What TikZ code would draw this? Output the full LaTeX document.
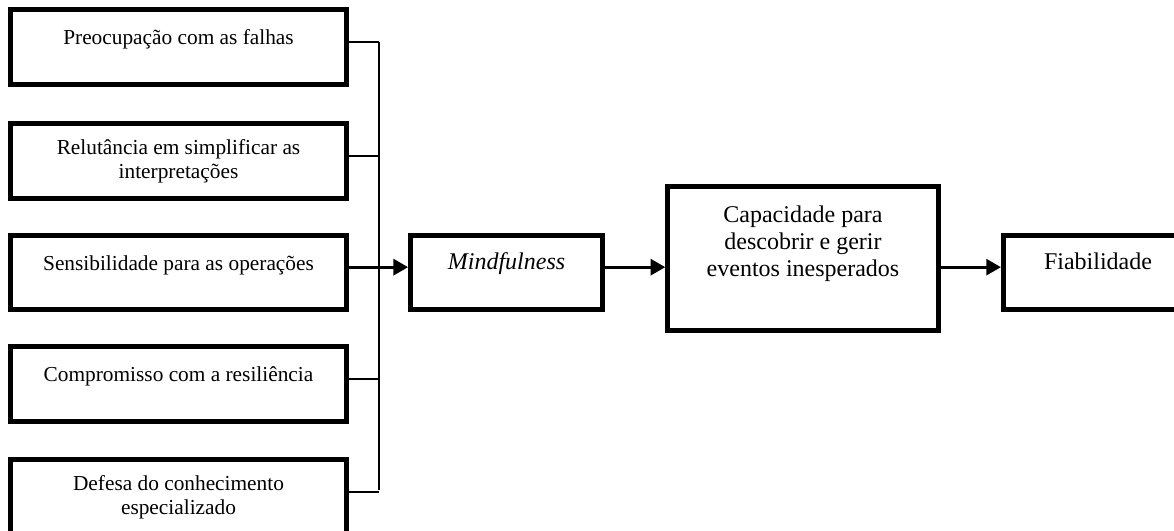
\documentclass[tikz,border=0pt]{standalone}
\usepackage{fontspec}
\setmainfont{Liberation Serif}
\usetikzlibrary{arrows.meta}

% empty second line, as in the boxes with only one line of text
\newcommand{\linhavazia}{\\[-9pt]\strut}

\tikzset{
    caixa/.style={draw, rectangle, line width=3.6pt, align=center, inner sep=0pt},
    caixaesq/.style={caixa, minimum width=252pt, minimum height=56pt, font=\fontsize{16}{18}\selectfont},
    caixadir/.style={caixa, font=\fontsize{18}{20}\selectfont},
    ramo/.style={line width=1.3pt},
    seta/.style={line width=2.2pt, -{Triangle[length=11pt, width=12pt]}}
}

\begin{document}
\begin{tikzpicture}[x=0.75pt, y=-0.75pt]
    % Fix the size of the picture
    \useasboundingbox (0,0) rectangle (1174,531);
    \clip (0,0) rectangle (1174,531);

    % Position of the vertical line joining the five boxes
    \def\busx{379}
    % Shift of the connectors above the box centres
    \def\up{4pt}

    % The five boxes on the left
    \node[caixaesq] (preoc) at (178.5,47) {Preocupação com as falhas\linhavazia};
    \node[caixaesq] (relut) at (178.5,161) {Relutância em simplificar as\\ interpretações};
    \node[caixaesq] (sensib) at (178.5,272.5) {Sensibilidade para as operações\linhavazia};
    \node[caixaesq] (comprom) at (178.5,384) {Compromisso com a resiliência\linhavazia};
    \node[caixaesq] (defesa) at (178.5,497) {Defesa do conhecimento\\ especializado};

    % The chain on the right
    \node[caixadir, minimum width=144pt, minimum height=56pt] (mind) at (506.5,272.5) {\textit{Mindfulness}\linhavazia};
    \node[caixadir, minimum width=203pt, minimum height=108pt] (capac) at (803,258.5) {Capacidade para\\ descobrir e gerir\\ eventos inesperados\\ \strut};
    \node[caixadir, minimum width=142pt, minimum height=56pt] (fiab) at (1098,272.5) {Fiabilidade\linhavazia};

    % Vertical line and the branches into it
    \coordinate (bustop) at (\busx,42);
    \coordinate (busbot) at (\busx,490);
    \draw[ramo] (bustop) -- (busbot);
    \foreach \b in {preoc, relut, comprom, defesa} {
        \draw[ramo] ([yshift=\up]\b.east) -- ([yshift=\up]\b.east -| bustop);
    }

    % Arrows
    \draw[seta] ([yshift=\up]sensib.east) -- ([yshift=\up]mind.west);
    \draw[seta] ([yshift=\up]mind.east) -- ([yshift=\up]mind.east -| capac.west);
    \draw[seta] ([yshift=\up]mind.east -| capac.east) -- ([yshift=\up]fiab.west);

\end{tikzpicture}
\end{document}
